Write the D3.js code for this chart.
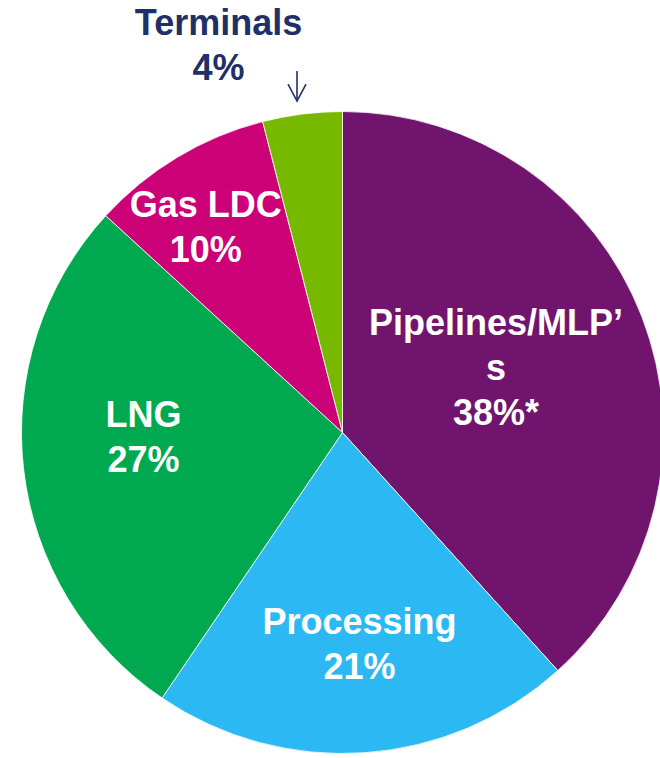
<!DOCTYPE html>
<html>
<head>
<meta charset="utf-8">
<script src="https://cdn.jsdelivr.net/npm/d3@7"></script>
<style>
  html, body { margin: 0; padding: 0; background: #fff; overflow: hidden; }
  svg { display: block; }
</style>
</head>
<body>
<svg id="chart"></svg>
<script>
// Slices, clockwise from 12 o'clock
const categories = ["Pipelines/MLP's", "Processing", "LNG", "Gas LDC", "Terminals"];
// slice sizes as drawn (the printed labels are rounded)
const values = [38.3, 21.2, 27.3, 9.2, 4.0];
const labelLines = [
  ["Pipelines/MLP\u2019", "s", "38%*"],
  ["Processing", "21%"],
  ["LNG", "27%"],
  ["Gas LDC", "10%"],
  ["Terminals", "4%"]
];

const colors = ["#70146E", "#2CB8F2", "#00A94F", "#CC0077", "#77B900"];
// label placement: [fraction of radius, angle in degrees clockwise from top]
const labelPlace = [[0.52, 66.8], [0.66, 175.4], [0.62, 268.9], [0.77, 326.4], [1.27, 342.3]];

const width = 660, height = 758;
const cx = 342.5, cy = 432.5, radius = 321;
const fontSize = 36, lineH = 45;

const svg = d3.select("#chart")
  .attr("width", width)
  .attr("height", height);

const pie = d3.pie().sort(null).value(d => d.value);
const arcs = pie(categories.map((c, i) => ({ name: c, value: values[i], idx: i })));

const arc = d3.arc().innerRadius(0).outerRadius(radius);

const g = svg.append("g").attr("transform", `translate(${cx},${cy})`);

// slices
g.selectAll("path")
  .data(arcs)
  .enter()
  .append("path")
  .attr("d", arc)
  .attr("fill", d => colors[d.data.idx])
  .attr("stroke", "#ffffff")
  .attr("stroke-width", 0.8);

// labels
const labels = g.selectAll("text.lbl")
  .data(arcs)
  .enter()
  .append("text")
  .attr("class", "lbl")
  .attr("font-family", "'Liberation Sans', Arial, sans-serif")
  .attr("font-weight", "bold")
  .attr("font-size", fontSize + "px")
  .attr("text-anchor", "middle")
  .attr("fill", d => d.data.idx === 4 ? "#1F3068" : "#ffffff")
  .attr("transform", d => {
    const [f, deg] = labelPlace[d.data.idx];
    const a = deg * Math.PI / 180;
    return `translate(${radius * f * Math.sin(a)},${-radius * f * Math.cos(a)})`;
  });

labels.each(function (d) {
  const lines = labelLines[d.data.idx];
  const n = lines.length;
  d3.select(this).selectAll("tspan")
    .data(lines)
    .enter()
    .append("tspan")
    .attr("x", 0)
    .attr("y", (l, i) => (i - (n - 1) / 2) * lineH + fontSize * 0.36)
    .text(l => l);
});

// arrow pointing down at the small Terminals slice
const term = arcs[4];
const midA = (term.startAngle + term.endAngle) / 2;
const tipX = (radius + 10) * Math.sin(midA) - 4;
const tipY = -(radius + 10) * Math.cos(midA) - 3;
const arrow = g.append("g")
  .attr("stroke", "#1F3068")
  .attr("stroke-width", 1.6)
  .attr("fill", "none");
arrow.append("line")
  .attr("x1", tipX).attr("y1", tipY - 30)
  .attr("x2", tipX).attr("y2", tipY);
arrow.append("path")
  .attr("d", `M${tipX - 9},${tipY - 17} L${tipX},${tipY} L${tipX + 9},${tipY - 17}`);
</script>
</body>
</html>
